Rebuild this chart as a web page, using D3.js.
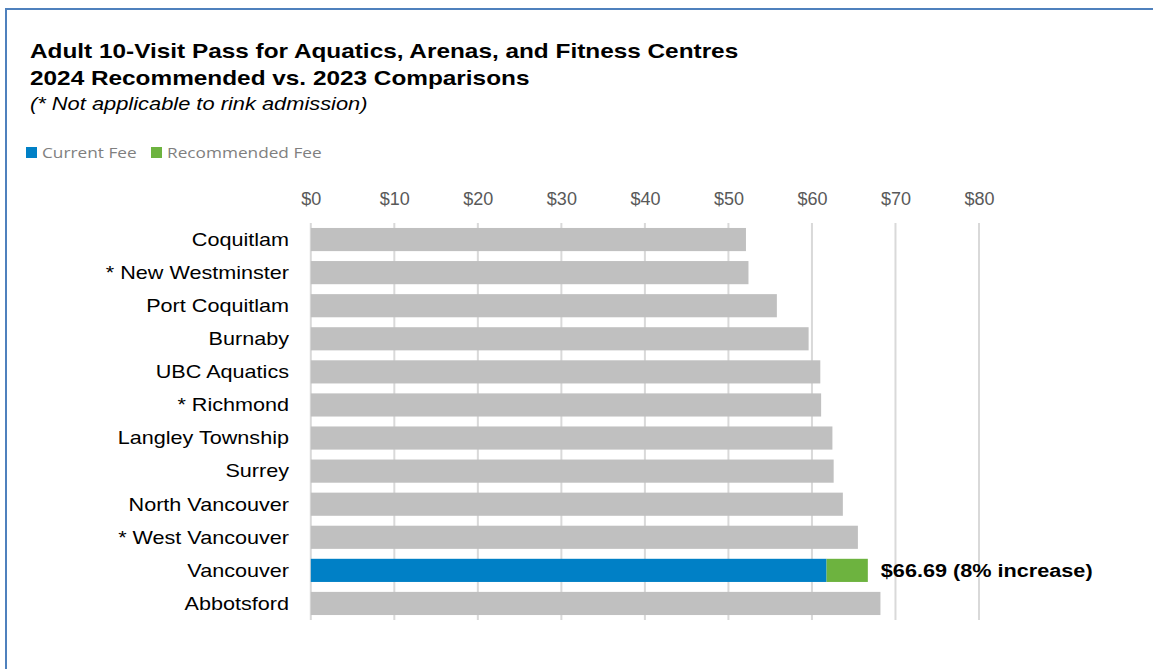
<!DOCTYPE html>
<html>
<head>
<meta charset="utf-8">
<script src="https://cdn.jsdelivr.net/npm/d3@7"></script>
<style>
  html, body { margin: 0; padding: 0; background: #fff; }
  svg { display: block; }
</style>
</head>
<body>
<svg id="chart" width="1153" height="669"></svg>
<script>
const categories = ["Coquitlam", "* New Westminster", "Port Coquitlam", "Burnaby", "UBC Aquatics",
  "* Richmond", "Langley Township", "Surrey", "North Vancouver", "* West Vancouver", "Vancouver", "Abbotsford"];
const currentFee = [52.1, 52.4, 55.8, 59.6, 61.0, 61.1, 62.45, 62.6, 63.7, 65.5, 61.75, 68.2];
const recommendedIncrease = [0, 0, 0, 0, 0, 0, 0, 0, 0, 0, 4.94, 0];
const highlight = "Vancouver";
const highlightLabel = "$66.69 (8% increase)";
const tickValues = [0, 10, 20, 30, 40, 50, 60, 70, 80];
const legendItems = ["Current Fee", "Recommended Fee"];

const SX = 1.15; // horizontal stretch of the reference's text
const svg = d3.select("#chart");

function stretchedText(parent, x, y, str, opts) {
  const t = parent.append("text")
    .attr("transform", `translate(${x},${y}) scale(${opts.sx || SX},1)`)
    .attr("font-family", opts.family || "Liberation Sans, Arial, sans-serif")
    .attr("font-size", opts.size)
    .attr("fill", opts.fill || "#000")
    .text(str);
  if (opts.weight) t.attr("font-weight", opts.weight);
  if (opts.style) t.attr("font-style", opts.style);
  if (opts.anchor) t.attr("text-anchor", opts.anchor);
  if (opts.dy) t.attr("dy", opts.dy);
  return t;
}

// border
svg.append("path")
  .attr("d", "M6,669 L6,9 L1153,9")
  .attr("fill", "none").attr("stroke", "#4f81bd").attr("stroke-width", 2);

// titles
stretchedText(svg, 30, 58, "Adult 10-Visit Pass for Aquatics, Arenas, and Fitness Centres", { size: 21, weight: "bold", sx: 1.16 });
stretchedText(svg, 30, 85, "2024 Recommended vs. 2023 Comparisons", { size: 21, weight: "bold", sx: 1.16 });
stretchedText(svg, 30, 110, "(* Not applicable to rink admission)", { size: 19, style: "italic" });

// legend
const legendColors = ["#0080c6", "#6db33f"];
const legendX = [26, 151];
legendItems.forEach((t, i) => {
  svg.append("rect").attr("x", legendX[i]).attr("y", 147).attr("width", 11).attr("height", 11)
    .attr("fill", legendColors[i]);
  stretchedText(svg, legendX[i] + 16, 158, t, { size: 15, family: "Open Sans, Noto Sans, sans-serif", fill: "#7f7f7f" });
});

// scales
const x = d3.scaleLinear().domain([0, 80]).range([310.8, 979]);
const y = d3.scaleBand().domain(categories).range([223, 620]).paddingInner(0.3).paddingOuter(0.15);

// axis labels
const gAxis = svg.append("g").attr("transform", "translate(0,223)")
  .call(d3.axisTop(x).tickValues(tickValues).tickFormat(d => "$" + d).tickSize(0).tickPadding(18));
gAxis.select(".domain").remove();
gAxis.selectAll("text")
  .attr("font-family", "Liberation Sans Narrow, Liberation Sans, Arial, sans-serif")
  .attr("font-size", 18).attr("fill", "#595959");

// gridlines
svg.append("g").selectAll("line").data(tickValues).join("line")
  .attr("x1", d => x(d)).attr("x2", d => x(d))
  .attr("y1", 223).attr("y2", 620)
  .attr("stroke", "#d9d9d9").attr("stroke-width", 2);

// bars
const data = categories.map((c, i) => ({ c, cur: currentFee[i], inc: recommendedIncrease[i] }));
svg.append("g").selectAll("rect").data(data).join("rect")
  .attr("x", x(0)).attr("y", d => y(d.c))
  .attr("width", d => x(d.cur) - x(0)).attr("height", y.bandwidth())
  .attr("fill", d => d.c === highlight ? "#0080c6" : "#c0c0c0");
svg.append("g").selectAll("rect").data(data.filter(d => d.inc > 0)).join("rect")
  .attr("x", d => x(d.cur)).attr("y", d => y(d.c))
  .attr("width", d => x(d.cur + d.inc) - x(d.cur)).attr("height", y.bandwidth())
  .attr("fill", "#6db33f");

// highlight label
const hd = data.find(d => d.c === highlight);
stretchedText(svg, x(hd.cur + hd.inc) + 13, y(hd.c) + y.bandwidth() / 2, highlightLabel,
  { size: 19, weight: "bold", dy: "0.35em", sx: 1.14 });

// category labels
const gLab = svg.append("g");
categories.forEach(c => {
  stretchedText(gLab, 289, y(c) + y.bandwidth() / 2, c, { size: 18, anchor: "end", dy: "0.35em", sx: 1.2 });
});
</script>
</body>
</html>
